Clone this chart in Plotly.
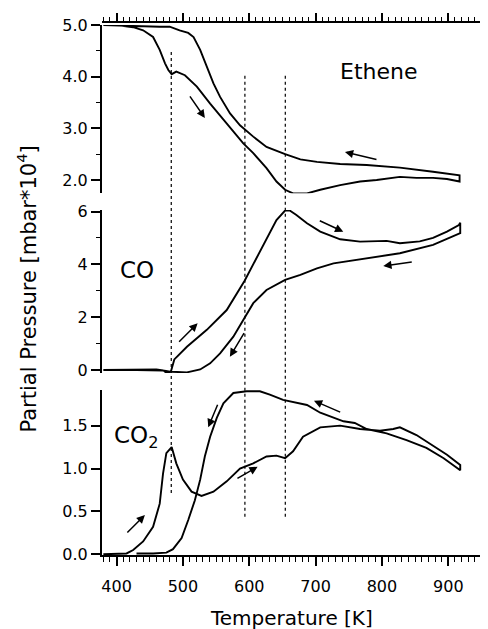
import plotly.graph_objects as go

# ---------------- data ----------------
ethene_heat_T = [380, 400, 425, 440, 455, 465, 473, 478, 483, 490, 503, 521, 541, 566, 591, 606,
                 626, 641, 654, 666, 687, 707, 737, 767, 792, 827, 852, 877, 898, 917]
ethene_heat_P = [5.00, 5.00, 4.96, 4.90, 4.77, 4.52, 4.26, 4.13, 4.05, 4.10, 4.03, 3.81, 3.48, 3.10,
                 2.71, 2.52, 2.23, 1.97, 1.81, 1.74, 1.74, 1.81, 1.90, 1.97, 2.00, 2.06, 2.04, 2.04,
                 2.02, 1.97]
ethene_cool_T = [917, 877, 827, 777, 737, 702, 677, 654, 626, 606, 586, 571, 556, 546, 536, 526,
                 516, 508, 495, 480, 465, 435, 400, 380]
ethene_cool_P = [2.09, 2.16, 2.24, 2.29, 2.31, 2.35, 2.40, 2.50, 2.64, 2.84, 3.06, 3.29, 3.61, 3.87,
                 4.19, 4.52, 4.77, 4.85, 4.90, 4.97, 4.97, 4.98, 5.00, 5.00]

co_heat_T = [380, 430, 460, 470, 475, 479, 482, 487, 506, 536, 566, 593, 611, 626, 641, 654, 661,
             671, 687, 707, 737, 767, 807, 827, 857, 877, 898, 916, 918]
co_heat_P = [0.00, 0.01, 0.02, -0.02, -0.10, -0.12, -0.05, 0.40, 0.88, 1.52, 2.27, 3.38, 4.23,
             4.93, 5.68, 6.04, 6.04, 5.87, 5.56, 5.24, 4.95, 4.86, 4.89, 4.80, 4.87, 5.00, 5.24,
             5.49, 5.58]
co_cool_T = [918, 877, 827, 777, 727, 702, 677, 654, 626, 606, 593, 576, 556, 541, 526, 506, 483,
             470, 430, 380]
co_cool_P = [5.18, 4.74, 4.42, 4.23, 4.04, 3.85, 3.60, 3.41, 3.03, 2.53, 1.96, 1.26, 0.63, 0.25,
             0.02, -0.09, -0.07, -0.02, 0.00, 0.00]

co2_heat_T = [380, 415, 425, 440, 455, 465, 470, 475, 483, 490, 500, 513, 528, 546, 566, 586, 606,
              626, 641, 654, 666, 681, 707, 737, 767, 797, 817, 827, 852, 877, 898, 918]
co2_heat_P = [0.00, 0.01, 0.05, 0.15, 0.32, 0.59, 0.94, 1.18, 1.25, 1.06, 0.87, 0.73, 0.68, 0.73,
              0.85, 1.00, 1.06, 1.14, 1.15, 1.12, 1.20, 1.37, 1.48, 1.50, 1.46, 1.44, 1.46, 1.48,
              1.39, 1.27, 1.16, 1.04]
co2_cool_T = [918, 893, 867, 837, 807, 777, 759, 742, 727, 707, 687, 666, 651, 631, 616, 596, 576,
              561, 551, 541, 533, 526, 518, 508, 498, 485, 475, 455, 430]
co2_cool_P = [0.98, 1.12, 1.24, 1.33, 1.41, 1.46, 1.53, 1.55, 1.59, 1.65, 1.74, 1.78, 1.80, 1.86,
              1.90, 1.90, 1.88, 1.76, 1.59, 1.37, 1.14, 0.87, 0.63, 0.40, 0.19, 0.06, 0.02, 0.01,
              0.01]

marker_T = [482.4, 593.4, 654.3]          # dotted reference temperatures
panel_names = ["Ethene", "CO", "CO<sub>2</sub>"]
x_title = "Temperature [K]"
y_title = "Partial Pressure [mbar*10<sup>4</sup>]"

# ---------------- figure ----------------
FONT = "DejaVu Sans"
fig = go.Figure()
ln = dict(color="black", width=1.9)
for T, P, ya in [(ethene_heat_T + ethene_cool_T, ethene_heat_P + ethene_cool_P, "y"),
                 (co_heat_T + co_cool_T, co_heat_P + co_cool_P, "y2"),
                 (co2_heat_T + co2_cool_T, co2_heat_P + co2_cool_P, "y3")]:
    fig.add_trace(go.Scatter(x=T, y=P, mode="lines", line=ln, xaxis="x", yaxis=ya,
                             hoverinfo="skip", showlegend=False))
# empty trace so the top (mirror) temperature axis is drawn
fig.add_trace(go.Scatter(x=[None], y=[None], xaxis="x2", yaxis="y3", showlegend=False,
                         hoverinfo="skip"))

XR = [378, 949.3]
common_y = dict(showline=True, linecolor="black", linewidth=2, ticks="outside", ticklen=9,
                tickwidth=1.5, tickcolor="black", mirror="ticks", showgrid=False,
                zeroline=False, anchor="x", automargin=False,
                tickfont=dict(size=16, color="black", family=FONT))

# page body has an 8px default margin: figure is sized/offset to compensate
fig.update_layout(
    width=480, height=621,
    margin=dict(l=94, r=7, t=14, b=74, autoexpand=False),
    paper_bgcolor="white", plot_bgcolor="white",
    font=dict(family=FONT, color="black"),
    xaxis=dict(domain=[0, 1], range=XR, anchor="y3", showline=True, linecolor="black",
               linewidth=2, ticks="outside", ticklen=9, tickwidth=1.5, tickcolor="black",
               dtick=100, tick0=0, showgrid=False, zeroline=False, automargin=False,
               minor=dict(dtick=10, ticklen=5, tickwidth=1.2, ticks="outside",
                          tickcolor="black", showgrid=False),
               tickfont=dict(size=16, color="black", family=FONT), ticklabelstandoff=7),
    xaxis2=dict(range=XR, overlaying="x", anchor="free", position=1, side="top",
                showline=True, linecolor="black", linewidth=2, ticks="outside", ticklen=8,
                tickwidth=1.5, tickcolor="black", dtick=100, tick0=0, showgrid=False,
                zeroline=False, showticklabels=False, automargin=False,
                minor=dict(dtick=10, ticklen=4, tickwidth=1.2, ticks="outside",
                           tickcolor="black", showgrid=False)),
    yaxis=dict(domain=[0.6786, 0.9944], range=[1.742, 5.003], dtick=1, tick0=0,
               tickformat=".1f", minor=dict(dtick=0.5, ticklen=4.5, tickwidth=1.2,
                                            ticks="outside", tickcolor="black"),
               **common_y),
    yaxis2=dict(domain=[0.3415, 0.6473], range=[-0.114, 6.06], dtick=2, tick0=0,
                minor=dict(dtick=1, ticklen=4.5, tickwidth=1.2, ticks="outside",
                           tickcolor="black"),
                **common_y),
    yaxis3=dict(domain=[0, 0.3096], range=[-0.008, 1.915], dtick=0.5, tick0=0,
                tickformat=".1f", **common_y),
)

# dotted vertical markers spanning panels
spans = [(0.1163, 0.9475), (0.0719, 0.9043), (0.0719, 0.9043)]
for T, (y0, y1) in zip(marker_T, spans):
    fig.add_shape(type="line", xref="x", yref="paper", x0=T, x1=T, y0=y0, y1=y1,
                  line=dict(color="black", width=1.2, dash="dot"))

# arrows: (tail T, tail value, head T, head value, y-axis)
arrows = [
    (509.0, 3.65, 533.1, 3.20, "y"),
    (794.0, 2.39, 744.2, 2.54, "y"),
    (492.0, 1.01, 522.1, 1.77, "y2"),
    (704.0, 5.68, 741.7, 5.24, "y2"),
    (847.2, 4.10, 802.0, 3.94, "y2"),
    (593.5, 1.45, 570.8, 0.50, "y2"),
    (414.0, 0.237, 442.7, 0.458, "y3"),
    (553.2, 1.76, 538.1, 1.48, "y3"),
    (579.9, 0.874, 612.6, 1.021, "y3"),
    (739.3, 1.65, 697.5, 1.79, "y3"),
]
for tx, ty, hx, hy, ya in arrows:
    fig.add_annotation(x=hx, y=hy, ax=tx, ay=ty, xref="x", yref=ya, axref="x", ayref=ya,
                       text="", showarrow=True, arrowhead=2, arrowsize=1.1, arrowwidth=1.5,
                       arrowcolor="black", standoff=0)

# panel labels
fig.add_annotation(x=734.3, y=4.10, xref="x", yref="y", text=panel_names[0], showarrow=False,
                   xanchor="left", yanchor="middle", font=dict(size=22, family=FONT))
fig.add_annotation(x=402.6, y=3.79, xref="x", yref="y2", text=panel_names[1], showarrow=False,
                   xanchor="left", yanchor="middle", font=dict(size=23, family=FONT))
fig.add_annotation(x=392.6, y=1.37, xref="x", yref="y3", text=panel_names[2], showarrow=False,
                   xanchor="left", yanchor="middle", font=dict(size=23, family=FONT))

# axis titles
fig.add_annotation(x=0.5, y=-0.1182, xref="paper", yref="paper", text=x_title,
                   showarrow=False, xanchor="center", yanchor="middle",
                   font=dict(size=20, family=FONT))
fig.add_annotation(x=-0.1979, y=0.5, xref="paper", yref="paper", text=y_title,
                   showarrow=False, textangle=-90, xanchor="center", yanchor="middle",
                   font=dict(size=21, family=FONT))

fig.write_html("out.html")
